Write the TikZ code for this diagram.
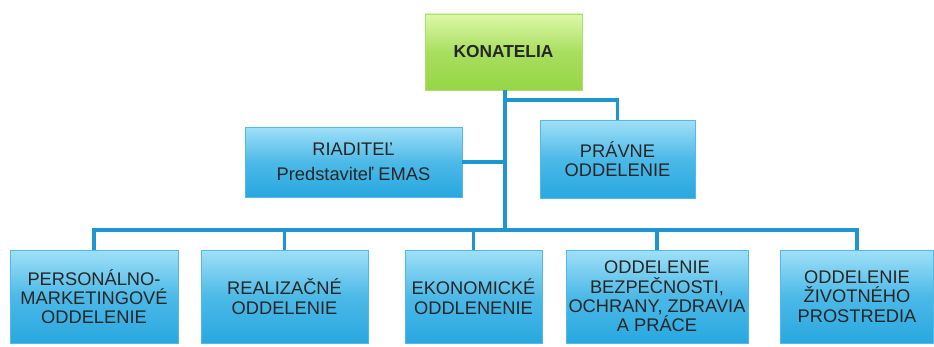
\documentclass[tikz,border=0pt]{standalone}
\usepackage{fontspec}
\setmainfont{Liberation Sans}
\definecolor{boxtop}{RGB}{160,224,248}
\definecolor{boxbot}{RGB}{40,168,224}
\definecolor{headtop}{RGB}{222,248,170}
\definecolor{headbot}{RGB}{150,214,70}
\definecolor{linkblue}{RGB}{30,150,210}
\tikzset{
  unit/.style={rectangle, top color=boxtop, bottom color=boxbot, middle color=boxbot!70!boxtop,
    draw=boxbot!80!white, line width=0.4pt, align=center, text=black!85,
    font=\fontsize{13.7}{14.5}\selectfont, inner sep=1pt},
  head/.style={unit, top color=headtop, bottom color=headbot, middle color=headbot!75!headtop,
    draw=headbot!80!white, font=\fontsize{13}{14.5}\selectfont\bfseries},
  link/.style={draw=linkblue, line width=2.4pt}
}
\begin{document}
\begin{tikzpicture}[x=0.75pt, y=-0.75pt]
    \useasboundingbox (0,0) rectangle (934,346);
    \node[head, minimum width=157*0.75pt, minimum height=76*0.75pt] (konatelia) at (503.5,52) {KONATELIA};
    \node[unit, minimum width=217*0.75pt, minimum height=70*0.75pt] (riaditel) at (353.5,162) {RIADITEĽ\\[4pt]Predstaviteľ EMAS};
    \node[unit, minimum width=155*0.75pt, minimum height=78*0.75pt] (pravne) at (617.5,159) {PRÁVNE\\ODDELENIE};
    \coordinate (hub) at (505,100);
    \coordinate (bus) at (505,230);
    % spodny rad oddeleni
    \node[unit, minimum width=168*0.75pt, minimum height=93*0.75pt] (personal) at (94,296.5) {PERSONÁLNO-\\MARKETINGOVÉ\\ODDELENIE};
    \node[unit, minimum width=167*0.75pt, minimum height=93*0.75pt] (realiz) at (284.5,296.5) {REALIZAČNÉ\\ODDELENIE};
    \node[unit, minimum width=137*0.75pt, minimum height=93*0.75pt] (ekonom) at (473.5,296.5) {EKONOMICKÉ\\ODDLENENIE};
    \node[unit, minimum width=182*0.75pt, minimum height=93*0.75pt] (bozp) at (657,296.5) {ODDELENIE\\BEZPEČNOSTI,\\OCHRANY, ZDRAVIA\\A PRÁCE};
    \node[unit, minimum width=153*0.75pt, minimum height=93*0.75pt] (zivot) at (857,296.5) {ODDELENIE\\ŽIVOTNÉHO\\PROSTREDIA};
    % spojnice
    \draw[link] (konatelia.south -| hub) -- (bus);
    \draw[link] (hub) -| (pravne.north);
    \draw[link] (riaditel.east) -- (riaditel.east -| hub);
    \foreach \n in {personal, realiz, ekonom, bozp, zivot}
        \draw[link] (bus) -| (\n.north);
\end{tikzpicture}
\end{document}
